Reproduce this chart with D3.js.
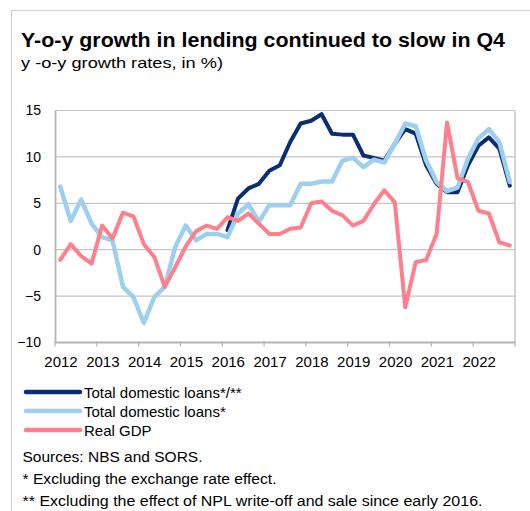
<!DOCTYPE html>
<html>
<head>
<meta charset="utf-8">
<script src="https://cdn.jsdelivr.net/npm/d3@7"></script>
<style>
  html, body { margin: 0; padding: 0; background: #fff; }
  svg { display: block; font-family: "Liberation Sans", Arial, sans-serif; }
</style>
</head>
<body>
<svg id="chart" width="530" height="511"></svg>
<script>
const years = ["2012","2013","2014","2015","2016","2017","2018","2019","2020","2021","2022"];
const yTicks = [-10, -5, 0, 5, 10, 15];

// quarterly y-o-y growth rates, 2012 Q1 .. 2022 Q4
const loansExclNPL = [
  null,null,null,null, null,null,null,null, null,null,null,null, null,null,null,null,
  2.1,5.5,6.6,7.1, 8.5,9.1,11.6,13.6, 13.9,14.6,12.5,12.4, 12.4,10.15,9.9,9.6,
  11.4,13.0,12.5,9.1, 7.1,6.2,6.2,9.1, 11.2,12.1,10.9,6.9
];
const loans = [
  6.8,3.1,5.4,2.8, 1.35,1.0,-4.0,-5.1, -7.9,-5.1,-4.0,0.3, 2.6,1.0,1.7,1.7,
  1.35,3.9,4.9,3.0, 4.8,4.8,4.8,7.1, 7.1,7.35,7.35,9.6, 9.9,8.9,9.7,9.4,
  11.4,13.6,13.3,9.6, 7.3,6.3,6.7,9.8, 12.0,13.0,11.6,7.3
];
const gdp = [
  -1.1,0.6,-0.7,-1.5, 2.6,1.2,4.0,3.6, 0.6,-0.8,-4.0,-1.9, 0.35,2.0,2.6,2.25,
  3.5,3.1,3.9,2.8, 1.7,1.7,2.25,2.4, 5.0,5.2,4.2,3.7, 2.6,3.1,4.9,6.4,
  5.1,-6.2,-1.35,-1.1, 1.7,13.7,7.7,7.3, 4.2,3.9,0.8,0.45
];

const seriesNames = ["Total domestic loans*/**", "Total domestic loans*", "Real GDP"];
const seriesColors = ["#0b2d73", "#9dcfee", "#ff7f8c"];
const seriesWidths = [4, 4.5, 4];
const seriesData = [loansExclNPL, loans, gdp];

const svg = d3.select("#chart");
const L = 55, R = 515, T = 110.5, B = 342.5;

// outer frame (top and left)
svg.append("line").attr("x1", 11).attr("x2", 530).attr("y1", 10.5).attr("y2", 10.5)
  .attr("stroke", "#d0d0d0").attr("stroke-width", 1.2);
svg.append("line").attr("x1", 11.5).attr("x2", 11.5).attr("y1", 10).attr("y2", 511)
  .attr("stroke", "#d0d0d0").attr("stroke-width", 1.2);

// title
svg.append("text").attr("x", 21).attr("y", 47)
  .attr("font-size", 20).attr("font-weight", "bold").attr("fill", "#000")
  .attr("textLength", 484).attr("lengthAdjust", "spacingAndGlyphs")
  .text("Y-o-y growth in lending continued to slow in Q4");
svg.append("text").attr("x", 21).attr("y", 68)
  .attr("font-size", 15).attr("fill", "#000")
  .attr("textLength", 202).attr("lengthAdjust", "spacingAndGlyphs")
  .text("y -o-y growth rates, in %)");

const n = loans.length;
const x = d3.scaleLinear().domain([0, n]).range([L, R]);
const y = d3.scaleLinear().domain([-10, 15]).range([B, T]);

// gridlines
svg.append("g").selectAll("line").data(yTicks.filter(v => v > -10)).join("line")
  .attr("x1", L).attr("x2", R)
  .attr("y1", d => y(d)).attr("y2", d => y(d))
  .attr("stroke", "#c6c6c6").attr("stroke-width", 1.2);

// right border
svg.append("line").attr("x1", R).attr("x2", R).attr("y1", T).attr("y2", B)
  .attr("stroke", "#c6c6c6").attr("stroke-width", 1.5);

// y axis
const yAxis = d3.axisLeft(y).tickValues(yTicks).tickSize(0).tickPadding(14);
const gy = svg.append("g").attr("transform", `translate(${L},0)`).call(yAxis);
gy.select(".domain").attr("stroke", "#b4b4b4").attr("stroke-width", 1.8);
gy.selectAll("text").attr("font-size", 14).attr("fill", "#000")
  .attr("font-family", "'Liberation Sans', Arial, sans-serif");

// x axis: year labels sit just right of each year's start tick
const yearScale = d3.scaleBand().domain(years).range([L, R]);
const labelScale = d3.scalePoint().domain(years).range([L + 5.5, R - yearScale.step() + 5.5]);
const xAxis = d3.axisBottom(labelScale).tickSize(0).tickPadding(14);
const gx = svg.append("g").attr("transform", `translate(0,${B})`).call(xAxis);
gx.select(".domain").remove();
gx.selectAll("text").attr("font-size", 15).attr("fill", "#000")
  .attr("font-family", "'Liberation Sans', Arial, sans-serif");
svg.append("line").attr("x1", L).attr("x2", R).attr("y1", B).attr("y2", B)
  .attr("stroke", "#b4b4b4").attr("stroke-width", 1.8);
svg.append("g").selectAll("line").data(d3.range(years.length + 1)).join("line")
  .attr("x1", d => L + d * yearScale.step()).attr("x2", d => L + d * yearScale.step())
  .attr("y1", B - 1).attr("y2", B + 4)
  .attr("stroke", "#b4b4b4").attr("stroke-width", 1.2);

// lines
const line = d3.line()
  .defined(d => d != null)
  .x((d, i) => x(i + 0.5))
  .y(d => y(d));

seriesData.forEach((data, k) => {
  svg.append("path").datum(data)
    .attr("d", line)
    .attr("fill", "none")
    .attr("stroke", seriesColors[k])
    .attr("stroke-width", seriesWidths[k])
    .attr("stroke-linejoin", "round")
    .attr("stroke-linecap", "round");
});

// legend
const lg = svg.append("g");
seriesNames.forEach((name, k) => {
  const yy = 392 + k * 19;
  lg.append("line").attr("x1", 26).attr("x2", 80).attr("y1", yy).attr("y2", yy)
    .attr("stroke", seriesColors[k]).attr("stroke-width", 4.5).attr("stroke-linecap", "round");
  lg.append("text").attr("x", 84).attr("y", yy + 5.5)
    .attr("font-size", 15).attr("fill", "#000").text(name);
});

// notes
const notes = [
  ["Sources:  NBS and  SORS.", 180],
  ["* Excluding  the  exchange  rate  effect.", 254],
  ["** Excluding  the  effect  of  NPL  write-off  and  sale  since  early  2016.", 460]
];
notes.forEach((nt, k) => {
  svg.append("text").attr("x", 22.5).attr("y", 462 + k * 22)
    .attr("font-size", 14).attr("fill", "#000")
    .attr("textLength", nt[1]).attr("lengthAdjust", "spacingAndGlyphs")
    .text(nt[0]);
});
</script>
</body>
</html>
